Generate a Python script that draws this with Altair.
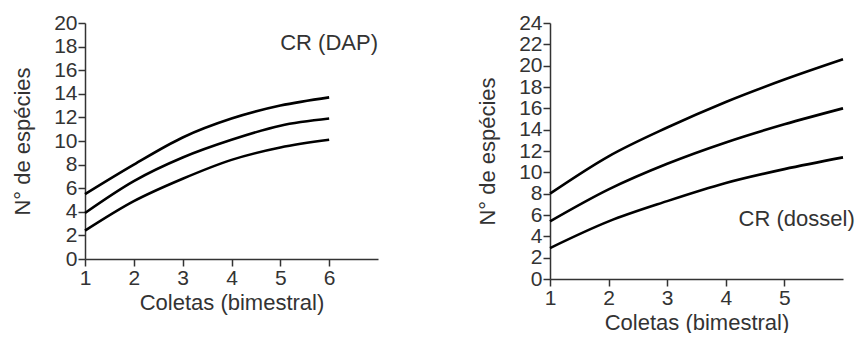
import altair as alt
import pandas as pd

# Left panel: CR (DAP)
left_x = [1, 2, 3, 4, 5, 6]
left_upper = [5.5, 8.0, 10.3, 11.9, 13.0, 13.7]
left_mid = [3.9, 6.6, 8.6, 10.1, 11.3, 11.9]
left_lower = [2.4, 4.9, 6.8, 8.4, 9.45, 10.1]

# Right panel: CR (dossel)
right_x = [1, 2, 3, 4, 5, 6]
right_upper = [8.0, 11.5, 14.2, 16.6, 18.7, 20.6]
right_mid = [5.4, 8.4, 10.8, 12.8, 14.5, 16.0]
right_lower = [2.9, 5.4, 7.3, 9.0, 10.3, 11.4]

left_yticks = list(range(0, 21, 2))
right_yticks = list(range(0, 25, 2))
left_xticks = [1, 2, 3, 4, 5, 6]
right_xticks = [1, 2, 3, 4, 5]

x_title = "Coletas (bimestral)"
y_title = "N° de espécies"
left_label = "CR (DAP)"
right_label = "CR (dossel)"
left_label_pos = (7.0, 18.3)
right_label_pos = (6.2, 5.6)

FONT = "Liberation Sans"
TXT = "#333333"


def make_df(xs, series):
    rows = []
    for name, ys in series.items():
        for x, y in zip(xs, ys):
            rows.append({"x": x, "y": y, "s": name})
    return pd.DataFrame(rows)


def axis_x(ticks):
    return alt.Axis(values=ticks, title=x_title, titlePadding=4, format="d")


def axis_y(ticks):
    return alt.Axis(values=ticks, title=y_title, titlePadding=19, format="d")


def panel(xs, series, xdom, ydom, xticks, yticks, label, lpos, w, h):
    df = make_df(xs, series)
    xs_scale = alt.Scale(domain=xdom, nice=False, zero=False)
    ys_scale = alt.Scale(domain=ydom, nice=False)
    lines = alt.Chart(df).mark_line(color="black", strokeWidth=2.6,
                                    interpolate="monotone", clip=False).encode(
        x=alt.X("x:Q", scale=xs_scale, axis=axis_x(xticks)),
        y=alt.Y("y:Q", scale=ys_scale, axis=axis_y(yticks)),
        detail="s:N",
    )
    tdf = pd.DataFrame({"x": [lpos[0]], "y": [lpos[1]], "t": [label]})
    text = alt.Chart(tdf).mark_text(align="right", baseline="middle",
                                    fontSize=22, font=FONT, color=TXT,
                                    clip=False).encode(
        x=alt.X("x:Q", scale=xs_scale, axis=axis_x(xticks)),
        y=alt.Y("y:Q", scale=ys_scale, axis=axis_y(yticks)),
        text="t:N")
    return alt.layer(lines, text).properties(width=w, height=h)


left = panel(left_x, {"a": left_upper, "b": left_mid, "c": left_lower},
             [1, 7], [0, 20], left_xticks, left_yticks, left_label,
             left_label_pos, 293, 236)
right = panel(right_x, {"a": right_upper, "b": right_mid, "c": right_lower},
              [1, 6], [0, 24], right_xticks, right_yticks, right_label,
              right_label_pos, 293, 256)

chart = alt.hconcat(left, right, spacing=98).properties(
    padding={"left": 11, "top": 12, "right": 0, "bottom": 0},
    background="white",
).configure_view(
    stroke=None
).configure_axis(
    grid=False, tickSize=7, labelFontSize=21, titleFontSize=22,
    labelFont=FONT, titleFont=FONT, labelColor=TXT, titleColor=TXT,
    domainColor=TXT, tickColor=TXT, domainWidth=1.5, tickWidth=1.5,
    labelPadding=1, titleFontWeight="normal", labelFlush=False,
    labelOverlap=False, labelBound=False
)

chart.save("out.html", embed_options={"renderer": "svg", "actions": False})
